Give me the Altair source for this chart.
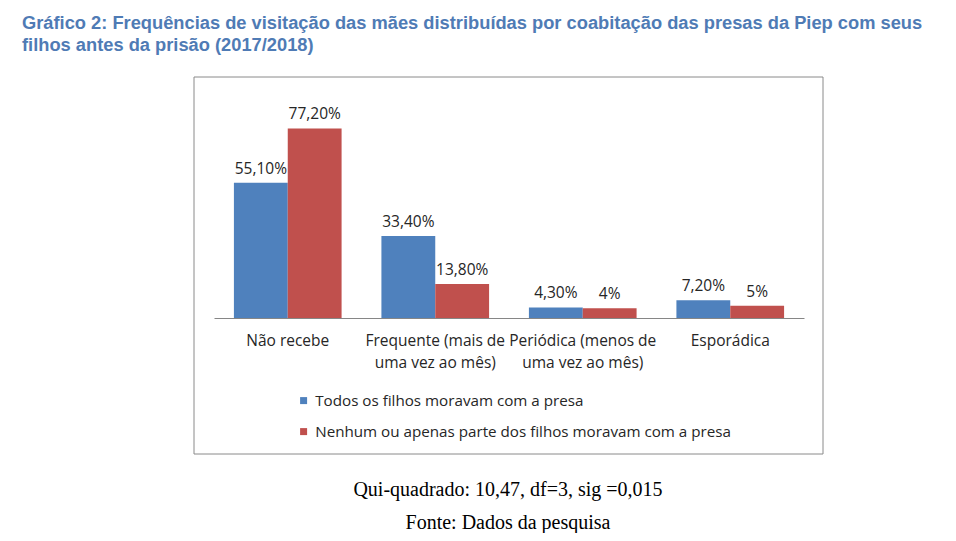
import altair as alt
import pandas as pd

# ---- data ----
categorias = [
    "Não recebe",
    "Frequente (mais de|uma vez ao mês)",
    "Periódica (menos de|uma vez ao mês)",
    "Esporádica",
]
series = [
    "Todos os filhos moravam com a presa",
    "Nenhum ou apenas parte dos filhos moravam com a presa",
]
todos = [55.1, 33.4, 4.3, 7.2]
nenhum = [77.2, 13.8, 4.0, 5.0]
todos_rot = ["55,10%", "33,40%", "4,30%", "7,20%"]
nenhum_rot = ["77,20%", "13,80%", "4%", "5%"]

titulo = [
    "Gráfico 2: Frequências de visitação das mães distribuídas por coabitação das presas da Piep com seus",
    "filhos antes da prisão (2017/2018)",
]
nota1 = "Qui-quadrado: 10,47, df=3, sig =0,015"
nota2 = "Fonte: Dados da pesquisa"

cores = ["#4f81bd", "#c0504d"]

rows = []
for i, c in enumerate(categorias):
    rows.append({"cat": c, "serie": series[0], "valor": todos[i], "rot": todos_rot[i]})
    rows.append({"cat": c, "serie": series[1], "valor": nenhum[i], "rot": nenhum_rot[i]})
df = pd.DataFrame(rows)

W, H = 590, 221
TXT = "#262626"
FONT = "Open Sans"

x_enc = alt.X(
    "cat:N",
    sort=categorias,
    scale=alt.Scale(paddingInner=0.27, paddingOuter=0.135),
    axis=alt.Axis(
        title=None,
        labelAngle=0,
        ticks=False,
        labelPadding=15,
        labelExpr="split(datum.label, '|')",
        labelFont=FONT,
        labelFontSize=15.5,
        labelColor=TXT,
        labelLineHeight=22,
        domainColor="#868686",
        grid=False,
    ),
)
xoff = alt.XOffset("serie:N", sort=series, scale=alt.Scale(paddingInner=0, paddingOuter=0))
y_enc = alt.Y("valor:Q", scale=alt.Scale(domain=[0, 90], nice=False), axis=None)

base = alt.Chart(df)

bars = base.mark_bar().encode(
    x=x_enc,
    xOffset=xoff,
    y=y_enc,
    color=alt.Color(
        "serie:N",
        sort=series,
        scale=alt.Scale(domain=series, range=cores),
        legend=alt.Legend(
            title=None,
            orient="none",
            legendX=82,
            legendY=296,
            direction="vertical",
            symbolType="square",
            symbolSize=49,
            symbolStrokeWidth=0,
            labelFont=FONT,
            labelFontSize=15.2,
            labelColor=TXT,
            labelOffset=4,
            rowPadding=15,
            padding=0,
            labelLimit=600,
        ),
    ),
)

labels = base.mark_text(
    baseline="alphabetic", dy=-9, font=FONT, fontSize=15.5, color=TXT
).encode(x=x_enc, xOffset=xoff, y=y_enc, text="rot:N")

frame = alt.Chart(pd.DataFrame({"k": [0]})).mark_rect(
    fill="white", fillOpacity=0, stroke="#8a8a8a", strokeWidth=1
).encode(x=alt.value(-20), x2=alt.value(609), y=alt.value(-20), y2=alt.value(357))

cap1 = alt.Chart(pd.DataFrame({"k": [0]})).mark_text(
    text=nota1, font="Liberation Serif", fontSize=20, color="#000000", baseline="middle", align="center"
).encode(x=alt.value(294), y=alt.value(393))

cap2 = alt.Chart(pd.DataFrame({"k": [0]})).mark_text(
    text=nota2, font="Liberation Serif", fontSize=20, color="#000000", baseline="middle", align="center"
).encode(x=alt.value(294), y=alt.value(426))

chart = (
    alt.layer(frame, bars, labels, cap1, cap2)
    .properties(
        width=W,
        height=H,
        autosize=alt.AutoSizeParams(type="none"),
        padding={"left": 206, "top": 89, "right": 144, "bottom": 215},
        background="white",
        title=alt.TitleParams(
            text=titulo,
            anchor="start",
            frame="group",
            dx=-192,
            offset=21,
            font="Liberation Sans",
            fontSize=18.3,
            fontWeight="bold",
            color="#4f7bb5",
            lineHeight=22,
        ),
    )
    .configure_view(strokeWidth=0)
)

chart.save("out.html", embed_options={"renderer": "svg", "actions": False})
